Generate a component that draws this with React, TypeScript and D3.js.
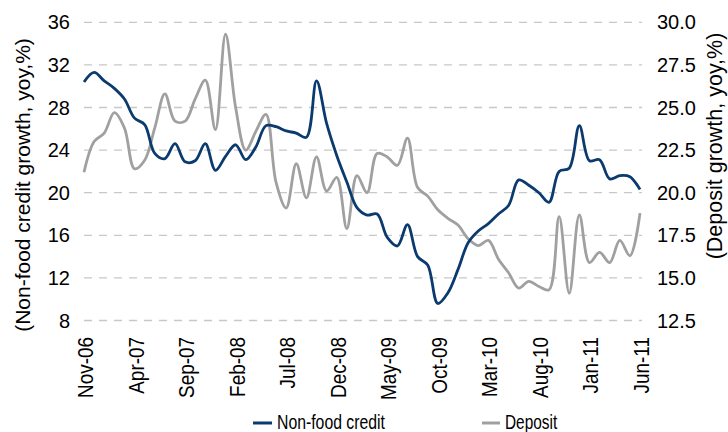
import React from "react";
import * as d3 from "d3";

// monthly, Nov-06 .. Jun-11
const months = d3.timeMonth.range(new Date(2006, 10, 1), new Date(2011, 6, 1));

const nonFoodCredit = [
  30.4, 31.3, 30.5, 29.8, 28.8, 27.0, 26.4, 23.7, 23.2, 24.6,
  22.9, 23.0, 24.6, 22.1, 23.4, 24.5, 23.1, 24.3, 26.3, 26.2,
  25.8, 25.6, 25.2, 30.5, 26.5, 23.5, 21.0, 18.6, 17.9, 18.0,
  15.8, 15.0, 17.0, 14.0, 13.2, 9.6, 10.6, 12.8, 15.3, 16.4,
  17.1, 18.0, 18.8, 21.2, 20.7, 20.0, 19.1, 22.0, 22.3, 26.3,
  23.0, 23.1, 21.3, 21.6, 21.5, 20.3,
];

const deposit = [
  21.2, 23.0, 23.5, 24.7, 23.8, 21.4, 21.9, 23.8, 25.8, 24.2,
  24.2, 25.5, 26.6, 23.7, 29.3, 25.0, 22.5, 23.6, 24.6, 20.6,
  19.1, 21.7, 19.7, 22.1, 20.1, 20.9, 17.9, 21.0, 20.0, 22.3,
  22.1, 21.6, 23.2, 20.3, 19.8, 19.0, 18.5, 18.1, 17.3, 16.9,
  17.2, 16.1, 15.3, 14.4, 14.8, 14.5, 14.3, 18.6, 14.1, 18.7,
  15.9, 16.5, 15.9, 17.2, 16.3, 18.8,
];

const leftTicks = [8, 12, 16, 20, 24, 28, 32, 36];
const rightTicks = [12.5, 15, 17.5, 20, 22.5, 25, 27.5, 30];

const W = 728;
const H = 432;
const FONT = "'Liberation Sans', Arial, sans-serif";
const NAVY = "#0b3a6f";
const GREY = "#a0a0a0";

export default function App() {
  const x = d3.scalePoint<number>().domain(d3.range(months.length)).range([84, 640]);
  const yL = d3.scaleLinear().domain([8, 36]).range([320.5, 22.3]);
  const yR = d3.scaleLinear().domain([12.5, 30]).range([320.5, 22.3]);
  const fmt = d3.timeFormat("%b-%y");

  const lineL = d3
    .line<number>()
    .x((_, i) => x(i)!)
    .y((d) => yL(d))
    .curve(d3.curveCatmullRom);
  const lineR = d3
    .line<number>()
    .x((_, i) => x(i)!)
    .y((d) => yR(d))
    .curve(d3.curveCatmullRom);

  return (
    <svg
      width={W}
      height={H}
      style={{ position: "absolute", left: 0, top: 0, background: "#fff" }}
      fontFamily={FONT}
    >
      {/* gridlines */}
      {leftTicks.map((t) => (
        <line
          key={t}
          x1={84}
          x2={642}
          y1={yL(t)}
          y2={yL(t)}
          stroke="#c8c8c8"
          strokeWidth={1.3}
          strokeDasharray="8,7"
        />
      ))}

      {/* left ticks */}
      {leftTicks.map((t) => (
        <text key={t} x={70} y={yL(t)} dy="0.35em" textAnchor="end" fontSize={20}>
          {t}
        </text>
      ))}
      {/* right ticks */}
      {rightTicks.map((t) => (
        <text key={t} x={657} y={yR(t)} dy="0.35em" textAnchor="start" fontSize={20}>
          {t.toFixed(1)}
        </text>
      ))}

      {/* x labels */}
      {months.map((m, i) =>
        i % 5 === 0 ? (
          <text
            key={i}
            transform={`translate(${x(i)! + 9},337) rotate(-90) scale(0.86,1)`}
            textAnchor="end"
            fontSize={22}
          >
            {fmt(m)}
          </text>
        ) : null
      )}

      {/* axis titles */}
      <text
        transform={`translate(23,185) rotate(-90)`}
        textAnchor="middle"
        fontSize={21}
        dy="0.35em"
      >
        (Non-food credit growth, yoy,%)
      </text>
      <text
        transform={`translate(714,146) rotate(-90)`}
        textAnchor="middle"
        fontSize={21.5}
        dy="0.35em"
      >
        (Deposit growth, yoy,%)
      </text>

      {/* series */}
      <path d={lineR(deposit)!} fill="none" stroke={GREY} strokeWidth={2.8} />
      <path d={lineL(nonFoodCredit)!} fill="none" stroke={NAVY} strokeWidth={2.8} />

      {/* legend */}
      <line x1={253} x2={272} y1={423} y2={423} stroke={NAVY} strokeWidth={3} />
      <text transform="translate(277,429) scale(0.79,1)" fontSize={20}>
        Non-food credit
      </text>
      <line x1={482} x2={500} y1={423} y2={423} stroke={GREY} strokeWidth={3} />
      <text transform="translate(505,429) scale(0.77,1)" fontSize={20}>
        Deposit
      </text>
    </svg>
  );
}
